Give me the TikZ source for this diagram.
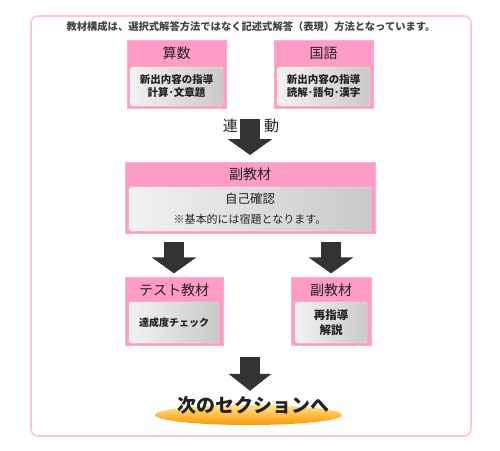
\documentclass[tikz,border=0pt]{standalone}
\usepackage{fontspec}
\usepackage{xcolor}
\usetikzlibrary{shapes.geometric, arrows.meta, positioning, fit, backgrounds}
\newfontfamily\jpfont{Noto Sans CJK JP}
\definecolor{darktext}{HTML}{222222}
\definecolor{framepink}{HTML}{FFC4DA}
\definecolor{headpink}{HTML}{FF9CC6}
\definecolor{arrowgray}{HTML}{333333}
\definecolor{innerlight}{HTML}{F2F2F2}
\definecolor{innerdark}{HTML}{C9C9C9}
\definecolor{ovalhi}{HTML}{FFE48A}
\definecolor{ovallo}{HTML}{FF9600}

\begin{document}
\begin{tikzpicture}[
    x=1pt, y=-1pt,
    every node/.style={font=\jpfont, text=darktext, inner sep=0pt},
    inner/.style={rectangle, rounded corners=3pt, draw=white!90!gray,
                  left color=innerlight, right color=innerdark,
                  align=center, font=\jpfont\bfseries\fontsize{10.5}{13}\selectfont},
    title/.style={font=\jpfont\fontsize{14}{16}\selectfont},
    headbox/.style={rectangle, fill=headpink, draw=headpink!80!white, inner sep=0pt},
    bigarrow/.style={line width=20pt, arrowgray,
                     -{Triangle[length=16pt, width=44pt]}}
]

\useasboundingbox (0,0) rectangle (500,450);
\draw[framepink, line width=1.6pt, rounded corners=7pt] (31,16) rectangle (471,436);

\node[font=\jpfont\bfseries\fontsize{10.3}{12}\selectfont, text=darktext!85] (intro) at (251,27)
    {教材構成は、選択式解答方法ではなく記述式解答（表現）方法となっています。};

% top row
\node[inner, minimum width=93pt, minimum height=39pt] (sansu) at (176.5,86.5)
    {新出内容の指導\\計算･文章題};
\node[title] (sansuT) at (176.5,53) {算数};
\node[inner, minimum width=93pt, minimum height=39pt] (kokugo) at (323.5,86.5)
    {新出内容の指導\\読解･語句･漢字};
\node[title] (kokugoT) at (323.5,53) {国語};

% middle
\node[inner, minimum width=242pt, minimum height=44pt, font=\jpfont\fontsize{11}{20}\selectfont]
    (fuku) at (250,209) {{\fontsize{12.5}{14}\selectfont 自己確認}\\※基本的には宿題となります。};
\node[title] (fukuT) at (250,174) {副教材};

% bottom row
\node[inner, minimum width=90pt, minimum height=41pt, font=\jpfont\bfseries\fontsize{10}{13}\selectfont]
    (test) at (174,322.5) {達成度チェック};
\node[title] (testT) at (174,290) {テスト教材};
\node[inner, minimum width=72pt, minimum height=41pt, font=\jpfont\bfseries\fontsize{11.5}{15}\selectfont]
    (saishido) at (331,322.5) {再指導\\解説};
\node[title] (saishidoT) at (331,290) {副教材};

% pink backs
\begin{scope}[on background layer]
\node[headbox, fit={(127,40) (226,108)}] (sansuBox) {};
\node[headbox, fit={(274,40) (373,108)}] (kokugoBox) {};
\node[headbox, fit={(125,162) (375,233)}] (fukuBox) {};
\node[headbox, fit={(125,277) (223,345)}] (testBox) {};
\node[headbox, fit={(291,277) (371,345)}] (saishidoBox) {};
\end{scope}

% next section
\node[ellipse, minimum width=187pt, minimum height=20pt, draw=none,
      top color=ovalhi, bottom color=ovallo] (nextEll) at (248.5,415) {};
\node[font=\jpfont\bfseries\fontsize{19}{20}\selectfont] (next) at (253,405) {次のセクションへ};

% block arrows
\coordinate (a1s) at (250,119);
\coordinate (a1e) at (250,155);
\draw[bigarrow] (a1s) -- (a1e);
\node[font=\jpfont\fontsize{15}{16}\selectfont, anchor=north east] (ren) at (238,119) {連};
\node[font=\jpfont\fontsize{15}{16}\selectfont, anchor=north west] (dou) at (264,119) {動};

\draw[bigarrow, shorten <=9pt, shorten >=10pt] (fukuBox.south -| test) -- (testT.north);
\draw[bigarrow, shorten <=9pt, shorten >=10pt] (fukuBox.south -| saishido) -- (saishidoT.north);
\coordinate (a4s) at (250,357);
\draw[bigarrow, -{Triangle[length=17pt, width=42pt]}, shorten >=5pt] (a4s) -- (a4s |- next.north);

\end{tikzpicture}
\end{document}
